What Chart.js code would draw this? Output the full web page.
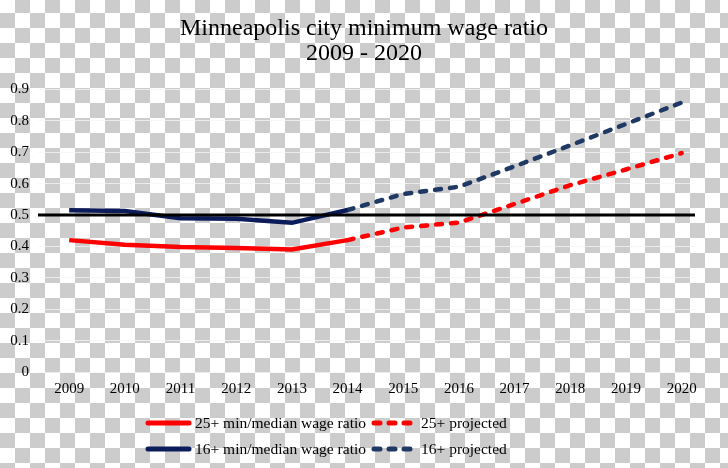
<!DOCTYPE html>
<html>
<head>
<meta charset="utf-8">
<script src="https://cdn.jsdelivr.net/npm/chart.js@4.4.1/dist/chart.umd.min.js"></script>
<style>
  html, body {
    margin: 0;
    padding: 0;
  }
  body {
    width: 728px;
    height: 468px;
    overflow: hidden;
    background: repeating-conic-gradient(#cccccc 0 25%, #ffffff 0 50%) 0 -2px / 30px 30px;
    font-family: 'Liberation Serif', 'Times New Roman', serif;
  }
  #wrap {
    position: relative;
    width: 728px;
    height: 468px;
  }
  #legend {
    position: absolute;
    left: 145px;
    top: 413px;
  }
  .legend-row {
    display: flex;
    align-items: center;
    height: 20px;
    margin-bottom: 6px;
    font-size: 15.5px;
    color: #000;
    white-space: nowrap;
  }
  .legend-row svg {
    display: block;
    margin-right: 3px;
  }
  .legend-row span {
    margin-right: 5px;
  }
</style>
</head>
<body>
<div id="wrap">
  <canvas id="wageChart"></canvas>
  <div id="legend"></div>
</div>
<script>
const years = [2009, 2010, 2011, 2012, 2013, 2014, 2015, 2016, 2017, 2018, 2019, 2020];

// 25+ ratio, actual then projected (2014 shared)
const ratio25Actual = [0.42, 0.405, 0.398, 0.395, 0.39, 0.42, null, null, null, null, null, null];
const ratio25Projected = [null, null, null, null, null, 0.42, 0.46, 0.476, 0.535, 0.595, 0.645, 0.697];

// 16+ ratio, actual then projected
const ratio16Actual = [0.515, 0.513, 0.49, 0.488, 0.475, 0.516, null, null, null, null, null, null];
const ratio16Projected = [null, null, null, null, null, 0.516, 0.567, 0.59, 0.655, 0.722, 0.79, 0.858];

const referenceLevel = 0.5;
const yTicks = [0, 0.1, 0.2, 0.3, 0.4, 0.5, 0.6, 0.7, 0.8, 0.9];

const FONT = "'Liberation Serif', 'Times New Roman', serif";
const DASH = [6, 9];

function toPoints(values) {
  return years.map((year, i) => ({ x: year, y: values[i] }));
}

const referenceLine = {
  id: "referenceLine",
  afterDatasetsDraw(chart) {
    const { ctx, chartArea, scales } = chart;
    const y = scales.y.getPixelForValue(referenceLevel);
    ctx.save();
    ctx.strokeStyle = "#000000";
    ctx.lineWidth = 3;
    ctx.beginPath();
    ctx.moveTo(chartArea.left, y);
    ctx.lineTo(chartArea.right, y);
    ctx.stroke();
    ctx.restore();
  },
};

function renderLegend(chart) {
  const legend = document.getElementById("legend");
  const sets = chart.data.datasets;
  legend.innerHTML = "";
  for (let i = 0; i < sets.length; i += 2) {
    const row = document.createElement("div");
    row.className = "legend-row";
    [sets[i], sets[i + 1]].forEach((ds) => {
      const dash = ds.borderDash ? `stroke-dasharray="${ds.borderDash.join(" ")}"` : "";
      row.insertAdjacentHTML(
        "beforeend",
        `<svg width="47" height="10"><line x1="3" y1="5" x2="44" y2="5" stroke="${ds.borderColor}" stroke-width="5" stroke-linecap="round" ${dash}/></svg><span>${ds.label}</span>`
      );
    });
    legend.appendChild(row);
  }
}

const ctx = document.getElementById("wageChart").getContext("2d");

const chart = new Chart(ctx, {
  type: "line",
  data: {
    datasets: [
      {
        label: "25+ min/median wage ratio",
        data: toPoints(ratio25Actual),
        borderColor: "#ff0000",
        borderWidth: 4.5,
      },
      {
        label: "25+ projected",
        data: toPoints(ratio25Projected),
        borderColor: "#ff0000",
        borderWidth: 4.5,
        borderDash: DASH,
        borderCapStyle: "round",
      },
      {
        label: "16+ min/median wage ratio",
        data: toPoints(ratio16Actual),
        borderColor: "#0c1c5a",
        borderWidth: 4.5,
      },
      {
        label: "16+ projected",
        data: toPoints(ratio16Projected),
        borderColor: "#1f3864",
        borderWidth: 4.5,
        borderDash: DASH,
        borderCapStyle: "round",
      },
    ],
  },
  options: {
    responsive: true,
    maintainAspectRatio: false,
    animation: false,
    layout: { padding: { left: 0, right: 0, top: 0, bottom: 62 } },
    elements: {
      point: { radius: 0 },
      line: { tension: 0 },
    },
    scales: {
      x: {
        type: "linear",
        min: 2008.44,
        max: 2020.24,
        grid: { display: false, drawTicks: false },
        border: { display: false },
        ticks: {
          stepSize: 1,
          includeBounds: false,
          padding: 8,
          color: "#000000",
          font: { family: FONT, size: 15 },
          callback: (value) => String(value),
        },
      },
      y: {
        min: 0,
        max: 0.9,
        afterFit: (scale) => {
          scale.width = 38;
        },
        afterBuildTicks: (scale) => {
          scale.ticks = yTicks.map((v) => ({ value: v }));
        },
        grid: {
          color: "rgba(245,245,245,0.75)",
          drawTicks: false,
        },
        border: { display: false },
        ticks: {
          padding: 9,
          color: "#000000",
          font: { family: FONT, size: 15 },
          callback: (value) => String(Math.round(value * 10) / 10),
        },
      },
      // empty right-hand spacer so the plot stops where the original does
      spacer: {
        position: "right",
        afterFit: (scale) => {
          scale.width = 33;
        },
        grid: { display: false, drawTicks: false },
        border: { display: false },
        ticks: { display: false },
      },
    },
    plugins: {
      title: {
        display: true,
        text: ["Minneapolis city minimum wage ratio", "2009 - 2020"],
        color: "#000000",
        font: { family: FONT, size: 24, weight: "normal", lineHeight: 1.05 },
        padding: { top: 16, bottom: 23 },
      },
      legend: { display: false },
      tooltip: { enabled: false },
    },
  },
  plugins: [referenceLine],
});

renderLegend(chart);
</script>
</body>
</html>
